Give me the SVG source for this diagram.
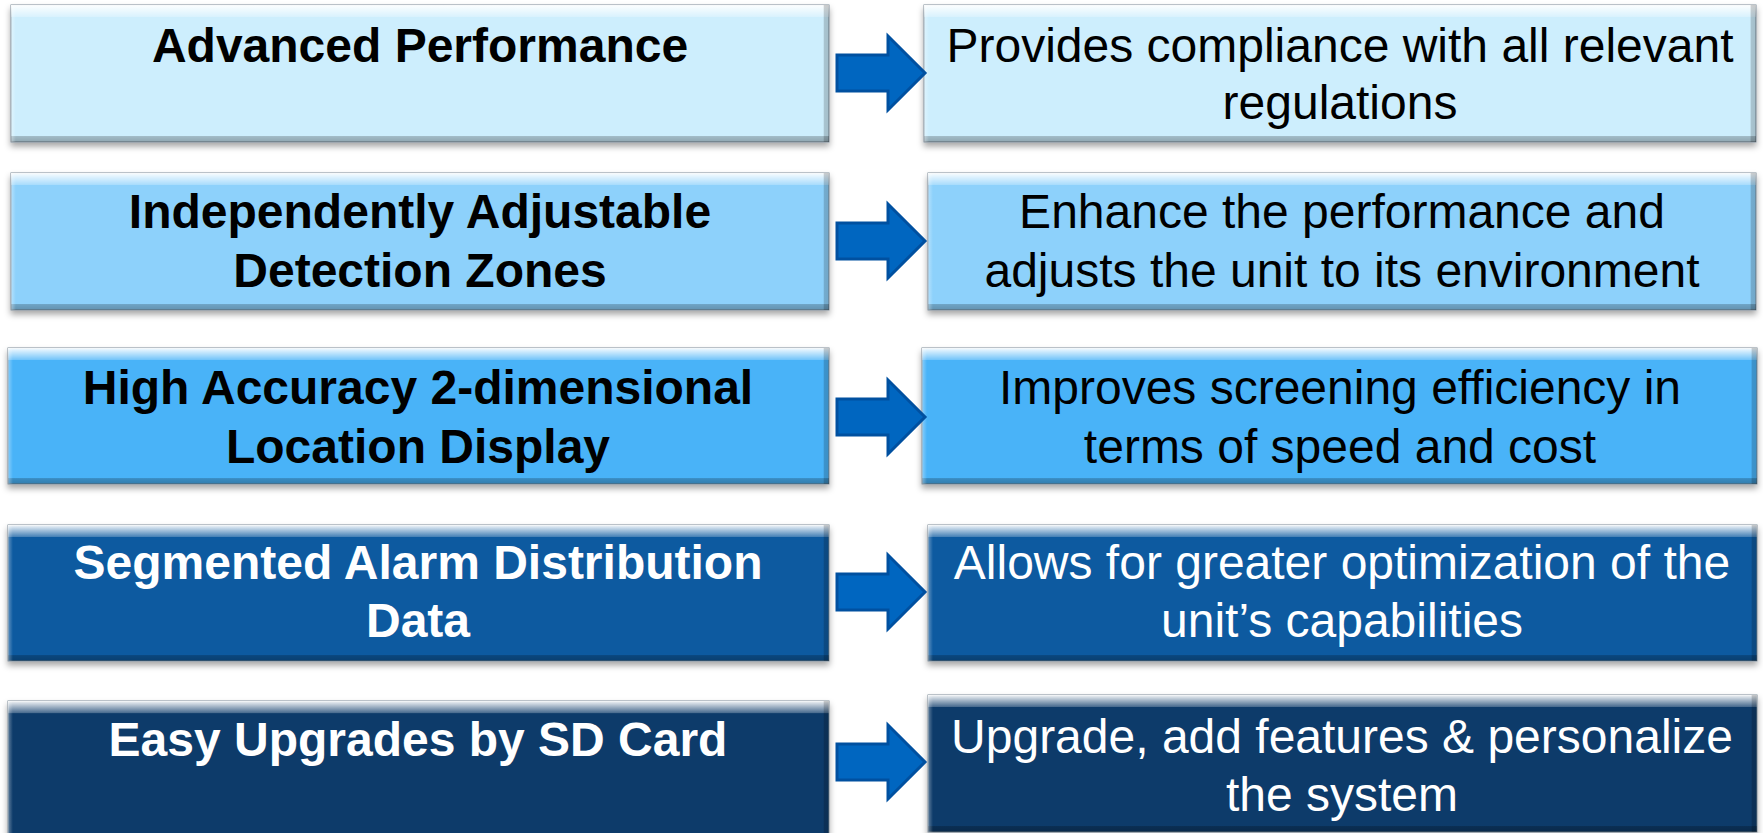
<svg xmlns="http://www.w3.org/2000/svg" width="1763" height="833" viewBox="0 0 1763 833">
<defs>
<linearGradient id="vbev" x1="0" y1="0" x2="0" y2="1">
<stop offset="0" stop-color="#fff" stop-opacity="0.95"/>
<stop offset="0.085" stop-color="#fff" stop-opacity="0.25"/>
<stop offset="0.09" stop-color="#fff" stop-opacity="0"/>
<stop offset="0.955" stop-color="#000" stop-opacity="0"/>
<stop offset="0.96" stop-color="#000" stop-opacity="0.22"/>
<stop offset="1" stop-color="#000" stop-opacity="0.3"/>
</linearGradient>
<linearGradient id="hbev" x1="0" y1="0" x2="1" y2="0">
<stop offset="0" stop-color="#fff" stop-opacity="0.35"/>
<stop offset="0.006" stop-color="#fff" stop-opacity="0"/>
<stop offset="0.993" stop-color="#000" stop-opacity="0"/>
<stop offset="0.994" stop-color="#000" stop-opacity="0.18"/>
<stop offset="1" stop-color="#000" stop-opacity="0.2"/>
</linearGradient>
<filter id="sh" x="-5%" y="-10%" width="110%" height="130%">
<feDropShadow dx="0" dy="4" stdDeviation="3" flood-color="#000" flood-opacity="0.35"/>
</filter>
<path id="arr" d="M0,-18 H51 V-37 L88,0 L51,37 V18 H0 Z"/>
</defs>
<style>
.box{filter:url(#sh);stroke:#7d8c98;stroke-width:1}
.bv{fill:url(#vbev)}
.bh{fill:url(#hbev)}
.r1{fill:#cdeefd}
.r2{fill:#8dd1fb}
.r3{fill:#4ab3f8}
.r4{fill:#0a5aa0}
.r5{fill:#0a3b6a}
text{font-family:"Liberation Sans",Arial,sans-serif;font-size:48px;text-anchor:middle}
.b{font-weight:bold}
.k{fill:#000}
.w{fill:#fff}
.arrow{fill:#0066c0;stroke:#0050a0;stroke-width:3;stroke-linejoin:miter}
</style>
<g id="row1-left">
<rect class="box r1" x="11" y="5" width="818" height="137"/>
<rect class="bv" x="11" y="5" width="818" height="137"/>
<rect class="bh" x="11" y="5" width="818" height="137"/>
<text class="b k" x="420" y="62">Advanced Performance</text>
</g>
<g id="row1-right">
<rect class="box r1" x="924" y="5" width="832" height="137"/>
<rect class="bv" x="924" y="5" width="832" height="137"/>
<rect class="bh" x="924" y="5" width="832" height="137"/>
<text class="k" x="1340" y="62">Provides compliance with all relevant</text>
<text class="k" x="1340" y="119">regulations</text>
</g>
<g id="row2-left">
<rect class="box r2" x="11" y="173" width="818" height="137"/>
<rect class="bv" x="11" y="173" width="818" height="137"/>
<rect class="bh" x="11" y="173" width="818" height="137"/>
<text class="b k" x="420" y="228">Independently Adjustable</text>
<text class="b k" x="420" y="287">Detection Zones</text>
</g>
<g id="row2-right">
<rect class="box r2" x="928" y="173" width="828" height="137"/>
<rect class="bv" x="928" y="173" width="828" height="137"/>
<rect class="bh" x="928" y="173" width="828" height="137"/>
<text class="k" x="1342" y="228">Enhance the performance and</text>
<text class="k" x="1342" y="287">adjusts the unit to its environment</text>
</g>
<g id="row3-left">
<rect class="box r3" x="8" y="348" width="821" height="136"/>
<rect class="bv" x="8" y="348" width="821" height="136"/>
<rect class="bh" x="8" y="348" width="821" height="136"/>
<text class="b k" x="418" y="404">High Accuracy 2-dimensional</text>
<text class="b k" x="418" y="463">Location Display</text>
</g>
<g id="row3-right">
<rect class="box r3" x="922" y="348" width="835" height="136"/>
<rect class="bv" x="922" y="348" width="835" height="136"/>
<rect class="bh" x="922" y="348" width="835" height="136"/>
<text class="k" x="1340" y="404">Improves screening efficiency in</text>
<text class="k" x="1340" y="463">terms of speed and cost</text>
</g>
<g id="row4-left">
<rect class="box r4" x="8" y="525" width="821" height="136"/>
<rect class="bv" x="8" y="525" width="821" height="136"/>
<rect class="bh" x="8" y="525" width="821" height="136"/>
<text class="b w" x="418" y="579">Segmented Alarm Distribution</text>
<text class="b w" x="418" y="637">Data</text>
</g>
<g id="row4-right">
<rect class="box r4" x="928" y="525" width="829" height="136"/>
<rect class="bv" x="928" y="525" width="829" height="136"/>
<rect class="bh" x="928" y="525" width="829" height="136"/>
<text class="w" x="1342" y="579">Allows for greater optimization of the</text>
<text class="w" x="1342" y="637">unit’s capabilities</text>
</g>
<g id="row5-left">
<rect class="box r5" x="8" y="701" width="821" height="140"/>
<rect class="bv" x="8" y="701" width="821" height="140"/>
<rect class="bh" x="8" y="701" width="821" height="140"/>
<text class="b w" x="418" y="756">Easy Upgrades by SD Card</text>
</g>
<g id="row5-right">
<rect class="box r5" x="928" y="695" width="829" height="137"/>
<rect class="bv" x="928" y="695" width="829" height="137"/>
<rect class="bh" x="928" y="695" width="829" height="137"/>
<text class="w" x="1342" y="753">Upgrade, add features &amp; personalize</text>
<text class="w" x="1342" y="811">the system</text>
</g>
<g id="connectors">
<use href="#arr" class="arrow" transform="translate(837,73)"/>
<use href="#arr" class="arrow" transform="translate(837,241)"/>
<use href="#arr" class="arrow" transform="translate(837,417)"/>
<use href="#arr" class="arrow" transform="translate(837,592)"/>
<use href="#arr" class="arrow" transform="translate(837,762)"/>
</g>
</svg>
